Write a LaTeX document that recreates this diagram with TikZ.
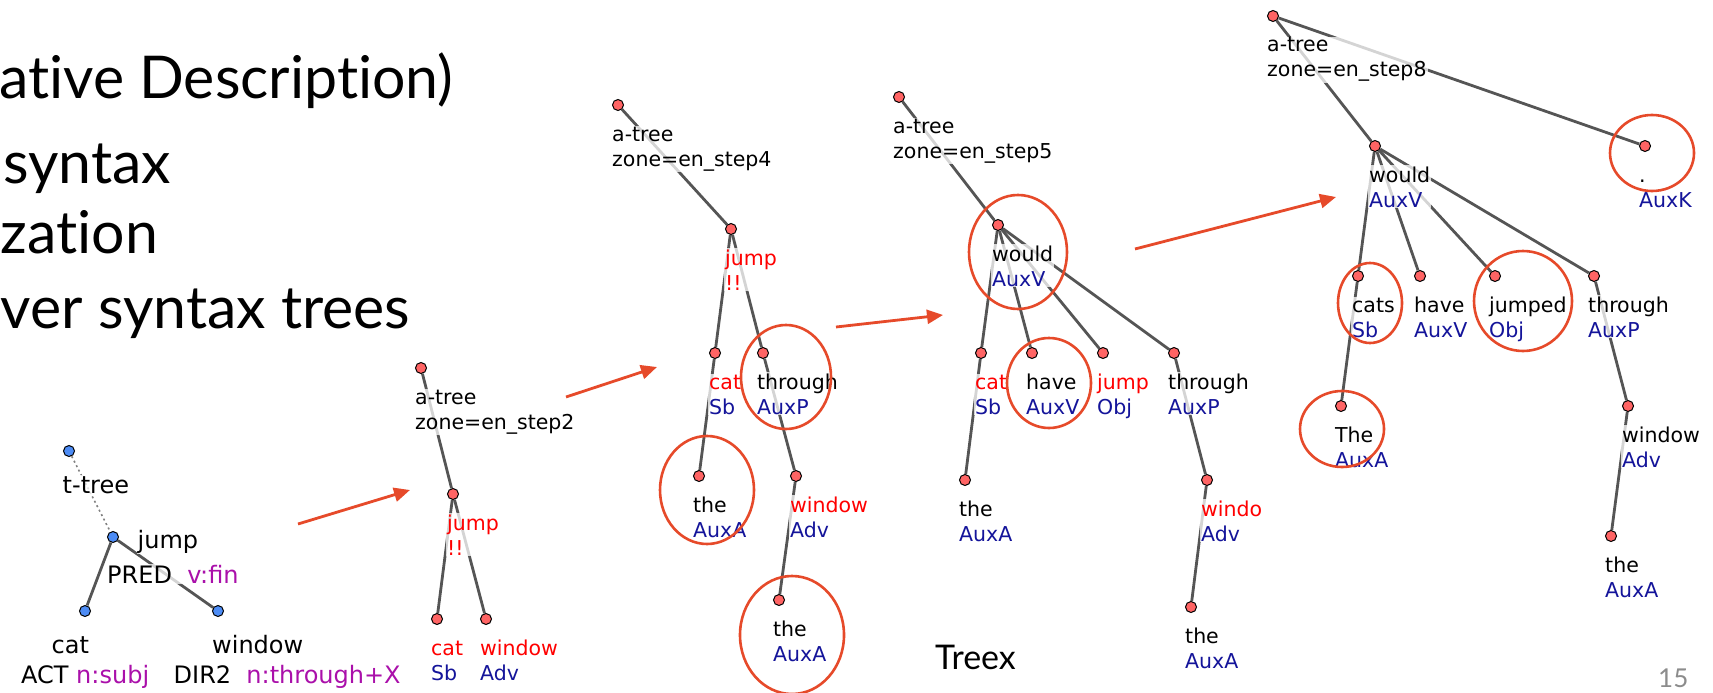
\documentclass[tikz,border=0pt]{standalone}
\usepackage{fontspec}
\setmainfont{Lato}[Ligatures=NoCommon]
\newfontfamily\treefont{DejaVu Sans}
\usetikzlibrary{arrows.meta, positioning, backgrounds}
\pgfdeclarelayer{labels}
\pgfsetlayers{background,labels,main}

\definecolor{dotred}{HTML}{FF6464}
\definecolor{dotblue}{HTML}{4D8CF5}
\definecolor{edgegray}{HTML}{555555}
\definecolor{hlred}{HTML}{E64A2A}
\definecolor{lblred}{HTML}{FF0000}
\definecolor{lblblue}{HTML}{14149A}
\definecolor{lblmag}{HTML}{AA10AA}
\definecolor{pagegray}{HTML}{8C8C8C}

\newcommand\rd[1]{\textcolor{lblred}{#1}}
\newcommand\bl[1]{\textcolor{lblblue}{#1}}
\newcommand\mg[1]{\textcolor{lblmag}{#1}}

\tikzset{
    anode/.style={circle, draw=black, line width=1pt, fill=dotred, minimum size=11pt, inner sep=0pt},
    tnode/.style={anode, fill=dotblue},
    dep/.style={draw=edgegray, line width=2.8pt},
    tdep/.style={draw=gray, line width=1.6pt, dash pattern=on 2pt off 3pt},
    alab/.style={anchor=base west, align=left, inner sep=1pt, fill=white, fill opacity=.75, text opacity=1,
        font=\treefont\fontsize{20.5}{25}\selectfont},
    tlab/.style={alab, font=\treefont\fontsize{24}{29}\selectfont},
    hl/.style={draw=hlred, line width=2.6pt},
    steparrow/.style={draw=hlred, line width=2.8pt, -{Triangle[length=16pt,width=14pt]}},
    slide/.style={anchor=base west, inner sep=0pt, font=\fontsize{59}{70}\selectfont},
}

\begin{document}
\begin{tikzpicture}[x=1pt, y=-1pt]
        \useasboundingbox (0,0) rectangle (1713,693);

        \node[slide] (fgd) at (-1,99) {ative Description)};
        \node[slide] (deep) at (3,183) {syntax};
        \node[slide] (lin) at (0.5,253) {zation};
        \node[slide] (over) at (0.5,328) {ver syntax trees};
        \node[anchor=base west, inner sep=0pt, font=\fontsize{34}{40}\selectfont] (treex) at (935,669) {Treex};
        \node[anchor=base west, inner sep=0pt, text=pagegray, font=\fontsize{26}{30}\selectfont] (page) at (1658,687) {15};

        \node[tnode] (troot) at (69,451) {};
        \node[tnode] (tjump) at (113,537) {};
        \node[tnode] (tcat) at (85,611) {};
        \node[tnode] (twin) at (218,611) {};

        \node[anode] (r2) at (421,368) {};
        \node[anode] (j2) at (453,494) {};
        \node[anode] (c2) at (437,619) {};
        \node[anode] (w2) at (486,619) {};

        \node[anode] (r4) at (618,105) {};
        \node[anode] (j4) at (731,229) {};
        \node[anode] (c4) at (715,353) {};
        \node[anode] (th4) at (763,353) {};
        \node[anode] (tha4) at (699,476) {};
        \node[anode] (w4) at (796,476) {};
        \node[anode] (thb4) at (779,600) {};

        \node[anode] (r5) at (899,97) {};
        \node[anode] (wd5) at (998,225) {};
        \node[anode] (c5) at (981,353) {};
        \node[anode] (h5) at (1032,353) {};
        \node[anode] (j5) at (1103,353) {};
        \node[anode] (th5) at (1174,353) {};
        \node[anode] (tha5) at (965,480) {};
        \node[anode] (w5) at (1207,480) {};
        \node[anode] (thb5) at (1191,607) {};

        \node[anode] (r8) at (1273,16) {};
        \node[anode] (wd8) at (1375,146) {};
        \node[anode] (pt8) at (1645,146) {};
        \node[anode] (cs8) at (1358,276) {};
        \node[anode] (h8) at (1420,276) {};
        \node[anode] (jd8) at (1495,276) {};
        \node[anode] (th8) at (1594,276) {};
        \node[anode] (tha8) at (1341,406) {};
        \node[anode] (w8) at (1628,406) {};
        \node[anode] (thb8) at (1611,536) {};

        \begin{pgfonlayer}{labels}
            \node[tlab] (trootl) at (61.5,493) {t-tree};
            \node[tlab] (tjumpl) at (136.5,548) {jump};
            \node[tlab] (tjumpf) at (106,583) {PRED\ \ \mg{v:fin}};
            \node[tlab] (tcatl) at (50.5,653) {cat};
            \node[tlab] (tcatf) at (20,683) {ACT \mg{n:subj}};
            \node[tlab] (twinl) at (211,653) {window};
            \node[tlab] (twinf) at (172.5,683) {DIR2\ \ \mg{n:through+X}};

            \node[alab] at ([shift={(-7,61)}]r2) {a-tree\\zone=en\_step2};
            \node[alab] at ([shift={(-7,61)}]j2) {\rd{jump}\\\rd{!!}};
            \node[alab] at ([shift={(-7,61)}]c2) {\rd{cat}\\\bl{Sb}};
            \node[alab] at ([shift={(-7,61)}]w2) {\rd{window}\\\bl{Adv}};

            \node[alab] at ([shift={(-7,61)}]r4) {a-tree\\zone=en\_step4};
            \node[alab] at ([shift={(-7,61)}]j4) {\rd{jump}\\\rd{!!}};
            \node[alab] at ([shift={(-7,61)}]c4) {\rd{cat}\\\bl{Sb}};
            \node[alab] at ([shift={(-7,61)}]th4) {through\\\bl{AuxP}};
            \node[alab] at ([shift={(-7,61)}]tha4) {the\\\bl{AuxA}};
            \node[alab] at ([shift={(-7,61)}]w4) {\rd{window}\\\bl{Adv}};
            \node[alab] at ([shift={(-7,61)}]thb4) {the\\\bl{AuxA}};

            \node[alab] at ([shift={(-7,61)}]r5) {a-tree\\zone=en\_step5};
            \node[alab] at ([shift={(-7,61)}]wd5) {would\\\bl{AuxV}};
            \node[alab] at ([shift={(-7,61)}]c5) {\rd{cat}\\\bl{Sb}};
            \node[alab] at ([shift={(-7,61)}]h5) {have\\\bl{AuxV}};
            \node[alab] at ([shift={(-7,61)}]j5) {\rd{jump}\\\bl{Obj}};
            \node[alab] at ([shift={(-7,61)}]th5) {through\\\bl{AuxP}};
            \node[alab] at ([shift={(-7,61)}]tha5) {the\\\bl{AuxA}};
            \node[alab] at ([shift={(-7,61)}]w5) {\rd{windo}\\\bl{Adv}};
            \node[alab] at ([shift={(-7,61)}]thb5) {the\\\bl{AuxA}};

            \node[alab] at ([shift={(-7,61)}]r8) {a-tree\\zone=en\_step8};
            \node[alab] at ([shift={(-7,61)}]wd8) {would\\\bl{AuxV}};
            \node[alab] at ([shift={(-7,61)}]pt8) {.\\\bl{AuxK}};
            \node[alab] at ([shift={(-7,61)}]cs8) {cats\\\bl{Sb}};
            \node[alab] at ([shift={(-7,61)}]h8) {have\\\bl{AuxV}};
            \node[alab] at ([shift={(-7,61)}]jd8) {jumped\\\bl{Obj}};
            \node[alab] at ([shift={(-7,61)}]th8) {through\\\bl{AuxP}};
            \node[alab] at ([shift={(-7,61)}]tha8) {The\\\bl{AuxA}};
            \node[alab] at ([shift={(-7,61)}]w8) {window\\\bl{Adv}};
            \node[alab] at ([shift={(-7,61)}]thb8) {the\\\bl{AuxA}};
        \end{pgfonlayer}

        \begin{scope}[on background layer]
            \draw[tdep] (troot) -- (tjump);
            \draw[dep] (tjump) -- (tcat);
            \draw[dep] (tjump) -- (twin);
            \draw[dep] (r2) -- (j2);
            \foreach \k in {c2,w2}
                \draw[dep] (j2) -- (\k);
            \draw[dep] (r4) -- (j4);
            \foreach \k in {c4,th4}
                \draw[dep] (j4) -- (\k);
            \draw[dep] (c4) -- (tha4);
            \draw[dep] (th4) -- (w4);
            \draw[dep] (w4) -- (thb4);
            \draw[dep] (r5) -- (wd5);
            \foreach \k in {c5,h5,j5,th5}
                \draw[dep] (wd5) -- (\k);
            \draw[dep] (c5) -- (tha5);
            \draw[dep] (th5) -- (w5);
            \draw[dep] (w5) -- (thb5);
            \foreach \k in {wd8,pt8}
                \draw[dep] (r8) -- (\k);
            \foreach \k in {cs8,h8,jd8,th8}
                \draw[dep] (wd8) -- (\k);
            \draw[dep] (cs8) -- (tha8);
            \draw[dep] (th8) -- (w8);
            \draw[dep] (w8) -- (thb8);
        \end{scope}

        \foreach \cx/\cy/\rx/\ry in {786/377/45/52, 707/490/47/54, 792/635/52/59, 1018/252/49/57,
            1049/383/42/45, 1652/153/42/38, 1370/303/32/40, 1523/301/49/50, 1342/429/42/38}
            \draw[hl] (\cx,\cy) ellipse [x radius=\rx pt, y radius=\ry pt];

        \coordinate (a1s) at (298,524);
        \coordinate (a1e) at (410,490);
        \coordinate (a2s) at (566,397);
        \coordinate (a2e) at (657,367);
        \coordinate (a3s) at (836,327);
        \coordinate (a3e) at (943,315);
        \coordinate (a4s) at (1135,249);
        \coordinate (a4e) at (1336,197);
        \foreach \i in {1,...,4}
            \draw[steparrow] (a\i s) -- (a\i e);
\end{tikzpicture}
\end{document}
